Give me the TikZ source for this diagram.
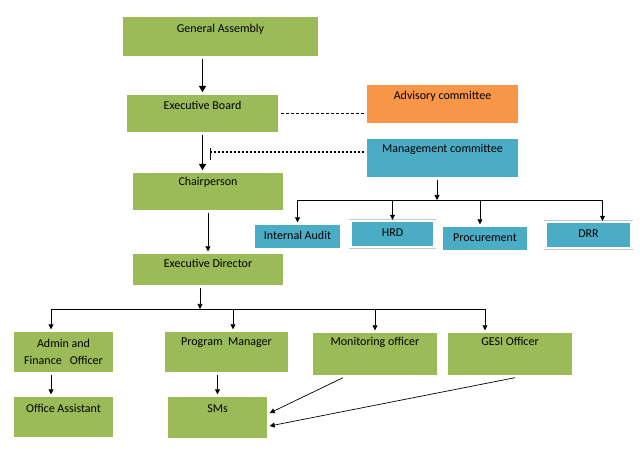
\documentclass[tikz,border=0pt]{standalone}
\usepackage{fontspec}
\setmainfont{Carlito}
\usepackage{tikz}
\usetikzlibrary{arrows.meta, shadows}
\definecolor{boxgreen}{HTML}{9BBB59}
\definecolor{boxorange}{HTML}{F79646}
\definecolor{boxblue}{HTML}{4BACC6}

\begin{document}
\begin{tikzpicture}[x=1pt, y=-1pt,
    box/.style={draw=white, line width=2.4pt, inner xsep=0pt, inner ysep=0pt,
        font=\fontsize{12}{13}\selectfont,
        preaction={draw=black!22, line width=3.6pt},
        drop shadow={shadow xshift=1.4pt, shadow yshift=-1.4pt, fill=black!45}},
    gbox/.style={box, fill=boxgreen},
    obox/.style={box, fill=boxorange},
    bbox/.style={box, fill=boxblue},
    small/.style={minimum height=26pt, text height=8pt, text depth=2.5pt},
    tb/.style 2 args={text height=#1pt, text depth=#2pt},
    arr/.style={-{Triangle[width=5pt,length=5pt]}, line width=0.7pt},
    bigarr/.style={-{Triangle[width=7pt,length=6.5pt]}, line width=1.6pt}]
    \useasboundingbox (0,0) rectangle (640,470);

    % Board level
    \node[gbox, tb={17}{25}, minimum width=198pt] (GA) at (220.5,36.5) {General Assembly};
    \node[gbox, tb={16}{24}, minimum width=154pt] (EB) at (202.5,113.5) {Executive Board};
    \node[obox, tb={16}{25}, minimum width=154pt] (Adv) at (442.5,104) {Advisory committee};
    \node[bbox, tb={15}{26}, minimum width=154pt] (Mgmt) at (442.5,158) {Management committee};
    \node[gbox, tb={14}{26}, minimum width=153pt] (Chair) at (208,191.5) {Chairperson};
    \node[gbox, tb={15}{19}, minimum width=153pt] (ED) at (208,269.5) {Executive Director};

    % Management units
    \node[bbox, small, minimum width=88pt] (IA) at (297.5,236.5) {Internal Audit};
    \node[bbox, small, minimum width=84pt] (HRD) at (392.5,234) {HRD};
    \node[bbox, small, minimum width=87pt] (Proc) at (485,238.5) {Procurement};
    \node[bbox, small, minimum width=86pt] (DRR) at (588.5,235) {DRR};

    % Staff
    \node[gbox, align=center, minimum width=102pt, minimum height=43pt,
        font=\fontsize{12}{17}\selectfont] (Admin) at (63.5,352) {Admin and\\Finance\ \ \ Officer};
    \node[gbox, tb={15}{28}, minimum width=126pt] (Prog) at (226.5,352) {Program\ \ Manager};
    \node[gbox, tb={14}{31}, minimum width=127pt] (Mon) at (375,354) {Monitoring officer};
    \node[gbox, tb={14}{31}, minimum width=127pt] (GESI) at (510,354) {GESI Officer};
    \node[gbox, tb={17}{26}, minimum width=102pt] (Office) at (63.5,417) {Office Assistant};
    \node[gbox, tb={17}{27}, minimum width=102pt] (SMs) at (217.5,417.5) {SMs};

    % Top chain
    \draw[bigarr] (GA.south -| EB.north) -- (EB.north);
    \draw[bigarr] (EB.south) -- (EB.south |- Chair.north);
    \draw[arr] (Chair.south -| ED.north) -- (ED.north);

    % Committees
    \draw[line width=0.6pt, dash pattern=on 3pt off 2pt] (EB.east) -- (EB.east -| Adv.west);
    \coordinate (dotend) at (210,152);
    \draw[line width=2.2pt, dash pattern=on 2.5pt off 1.5pt] (Mgmt.west |- dotend) -- (dotend);
    \draw[line width=0.6pt] (dotend) ++(0,-4) -- ++(0,12);

    % Management bus
    \coordinate (mbus) at (437,200);
    \draw[arr] (Mgmt.south -| mbus) -- (mbus);
    \draw[line width=0.7pt] (IA.north |- mbus) -- ([xshift=14pt]DRR.north |- mbus);
    \foreach \n/\dx in {IA/0, HRD/0, Proc/-5, DRR/14}
        \draw[arr] ([xshift=\dx pt]\n.north |- mbus) -- ([xshift=\dx pt]\n.north);

    % Director bus
    \coordinate (ebus) at (200,309);
    \draw[arr] (ED.south -| ebus) -- (ebus);
    \draw[line width=0.7pt] ([xshift=-12.5pt]Admin.north |- ebus) -- ([xshift=-25pt]GESI.north |- ebus);
    \foreach \n/\dx in {Admin/-12.5, Prog/6.5, Mon/0, GESI/-25}
        \draw[arr] ([xshift=\dx pt]\n.north |- ebus) -- ([xshift=\dx pt]\n.north);

    % Lower links
    \draw[arr] ([xshift=-12.5pt]Admin.south) -- ([xshift=-12.5pt]Office.north);
    \draw[arr] (Prog.south -| SMs.north) -- (SMs.north);
    \draw[arr] ([xshift=-32pt]Mon.south) -- ([yshift=4.5pt]SMs.east);
    \draw[arr] ([xshift=5pt]GESI.south) -- ([yshift=-8.5pt]SMs.east);
\end{tikzpicture}
\end{document}
